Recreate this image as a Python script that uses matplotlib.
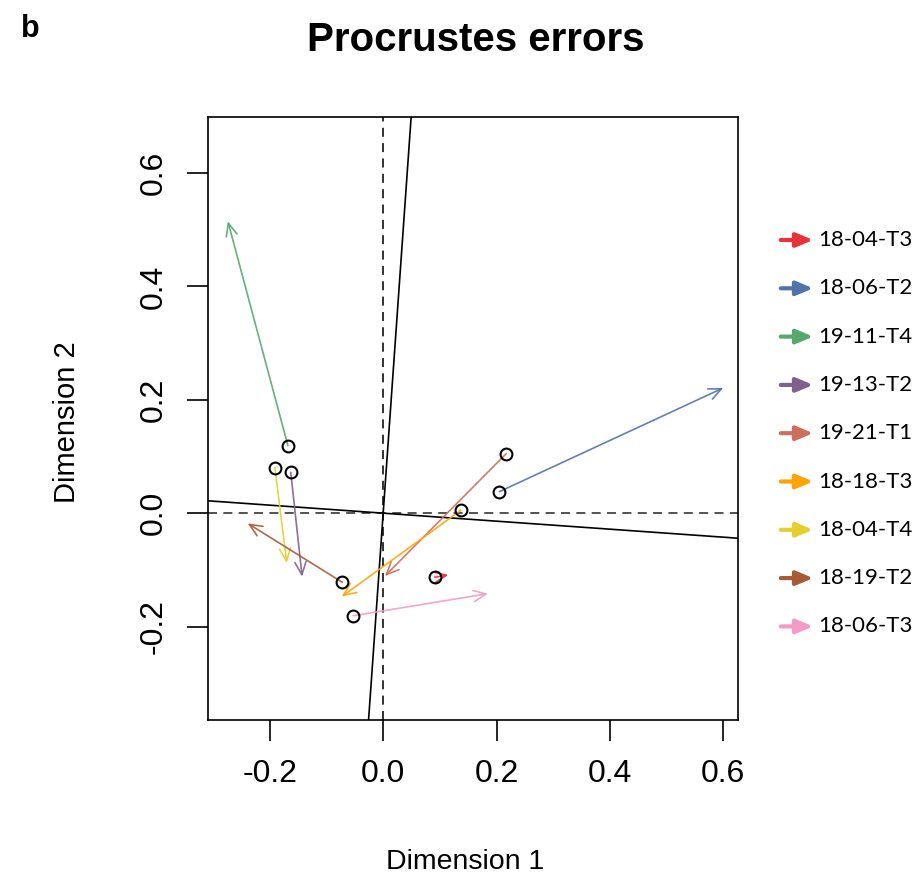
import numpy as np
import matplotlib
matplotlib.use('Agg')
import matplotlib.pyplot as plt
from matplotlib.patches import FancyArrowPatch

plt.rcParams['font.family'] = ['Liberation Sans', 'DejaVu Sans']

# samples in legend order
labels = ['18-04-T3', '18-06-T2', '19-11-T4', '19-13-T2', '19-21-T1',
          '18-18-T3', '18-04-T4', '18-19-T2', '18-06-T3']
colors = ['#e8333b', '#5173ab', '#56a86c', '#7f608c', '#cf6e5b',
          '#ffa304', '#e4cf2f', '#a85a36', '#f59ac6']

# target config (circles) and rotated config (arrow heads)
x_start = [0.091, 0.205, -0.168, -0.163, 0.217, 0.137, -0.191, -0.072, -0.053]
y_start = [-0.113, 0.038, 0.119, 0.072, 0.105, 0.005, 0.080, -0.122, -0.181]
x_end = [0.115, 0.600, -0.274, -0.143, 0.003, -0.073, -0.170, -0.239, 0.185]
y_end = [-0.109, 0.221, 0.515, -0.112, -0.111, -0.147, -0.088, -0.018, -0.142]

# slope of the rotated first axis
rot_slope = -0.0706

xticks = [-0.2, 0.0, 0.2, 0.4, 0.6]
yticks = [-0.2, 0.0, 0.2, 0.4, 0.6]

fig = plt.figure(figsize=(9.2, 8.81), dpi=100)
ax = fig.add_axes([0.2261, 0.1827, 0.5761, 0.6845])

ax.axhline(0, color='#444444', lw=1.3, ls=(0, (5, 3.5)), zorder=1)
ax.axvline(0, color='#222222', lw=1.3, ls=(0, (5, 3.5)), zorder=1)
ax.axline((0, 0), slope=rot_slope, color='black', lw=1.2, zorder=2)
ax.axline((0, 0), slope=-1 / rot_slope, color='black', lw=1.2, zorder=2)

for xs, ys, xe, ye, c in zip(x_start, y_start, x_end, y_end, colors):
    ax.annotate('', xy=(xe, ye), xytext=(xs, ys),
                arrowprops=dict(arrowstyle='->,head_length=0.9,head_width=0.4',
                                color=c, lw=1.2, alpha=0.9, shrinkA=0, shrinkB=0,
                                mutation_scale=10), zorder=3)

ax.plot(x_start, y_start, 'o', ms=8.5, mfc='none', mec='black', mew=1.5, zorder=4)

ax.set_xlim(-0.309, 0.626)
ax.set_ylim(-0.365, 0.699)
ax.set_xticks(xticks)
ax.set_xticklabels(['%.1f' % v for v in xticks])
ax.set_yticks(yticks)
ax.set_yticklabels(['%.1f' % v for v in yticks], rotation=90, va='center')
ax.tick_params(length=15, width=1.2, pad=13, labelsize=23)
for s in ax.spines.values():
    s.set_linewidth(1.2)

fig.text(465 / 920, 1 - 862 / 881, 'Dimension 1', ha='center', va='center', fontsize=20.5)
fig.text(67 / 920, 1 - 422 / 881, 'Dimension 2', ha='center', va='center',
         fontsize=21, rotation=90)
fig.text(476 / 920, 1 - 40 / 881, 'Procrustes errors', ha='center', va='center',
         fontsize=29, fontweight='bold')
fig.text(30 / 920, 1 - 29 / 881, 'b', ha='center', va='center',
         fontsize=22, fontweight='bold')

# legend on the right, outside the axes
for i, (lab, c) in enumerate(zip(labels, colors)):
    yy = 1 - (240 + 48.3 * i) / 881
    arr = FancyArrowPatch((778 / 920, yy), (816 / 920, yy),
                          transform=fig.transFigure,
                          arrowstyle='-|>,head_length=1.0,head_width=0.42',
                          mutation_scale=10, color=c, lw=3)
    fig.patches.append(arr)
    fig.text(818 / 920, yy, lab, ha='left', va='center', fontsize=16,
             family=['Lato', 'DejaVu Sans'])

fig.savefig('out.png', dpi=100)
